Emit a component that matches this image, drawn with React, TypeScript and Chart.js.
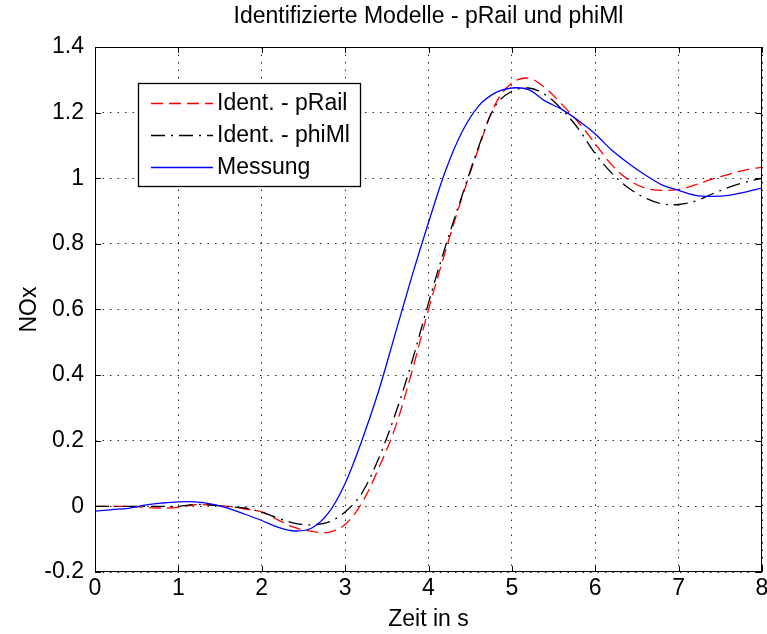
import { useEffect, useRef } from 'react';
import { Chart, registerables } from 'chart.js';

Chart.register(...registerables);

const chartTitle = 'Identifizierte Modelle - pRail und phiMl';
const xAxisTitle = 'Zeit in s';
const yAxisTitle = 'NOx';

const xTicks = [0, 1, 2, 3, 4, 5, 6, 7, 8];
const yTicks = [-0.2, 0, 0.2, 0.4, 0.6, 0.8, 1, 1.2, 1.4];

const time = [
  0, 0.2, 0.4, 0.6, 0.8, 1.0, 1.2, 1.4, 1.6, 1.8,
  2.0, 2.2, 2.4, 2.6, 2.8, 3.0, 3.2, 3.4, 3.6, 3.8,
  4.0, 4.2, 4.4, 4.6, 4.8, 5.0, 5.2, 5.4, 5.6, 5.8,
  6.0, 6.2, 6.4, 6.6, 6.8, 7.0, 7.2, 7.4, 7.6, 7.8, 8.0,
];

const identPRail = [
  0, 0, 0, -0.003, -0.005, -0.003, 0.005, 0.004, 0, -0.008,
  -0.017, -0.042, -0.065, -0.076, -0.079, -0.055, 0.01, 0.115, 0.24, 0.41,
  0.6, 0.775, 0.94, 1.09, 1.225, 1.29, 1.305, 1.275, 1.225, 1.17,
  1.105, 1.04, 0.995, 0.97, 0.963, 0.966, 0.98, 0.997, 1.012, 1.025, 1.034,
];

const identPhiMl = [
  0, 0, 0, 0, 0, 0, 0.006, 0.004, -0.001, -0.005,
  -0.018, -0.036, -0.052, -0.056, -0.048, -0.017, 0.04, 0.145, 0.28, 0.44,
  0.62, 0.79, 0.945, 1.095, 1.22, 1.265, 1.275, 1.255, 1.21, 1.15,
  1.075, 1.015, 0.97, 0.94, 0.922, 0.92, 0.93, 0.952, 0.972, 0.988, 1.0,
];

const messung = [
  -0.015, -0.01, -0.006, 0.004, 0.01, 0.014, 0.014, 0.007, -0.006, -0.024,
  -0.043, -0.064, -0.075, -0.066, -0.02, 0.07, 0.2, 0.35, 0.525, 0.7,
  0.865, 1.02, 1.14, 1.22, 1.26, 1.275, 1.27, 1.235, 1.21, 1.175,
  1.135, 1.085, 1.045, 1.01, 0.98, 0.963, 0.948, 0.945, 0.948, 0.958, 0.97,
];

const FONT = "'Liberation Sans', Arial, Helvetica, sans-serif";

const framePlugin = {
  id: 'frameAndLegend',
  afterDatasetsDraw(chart: any) {
    const { ctx, chartArea, scales } = chart;
    const { left, right, top, bottom } = chartArea;
    ctx.save();
    ctx.strokeStyle = '#000';
    ctx.lineWidth = 1;
    ctx.setLineDash([]);
    ctx.strokeRect(Math.round(left) + 0.5, Math.round(top) + 0.5, Math.round(right - left) - 1, Math.round(bottom - top) - 1);
    const tl = 6;
    ctx.beginPath();
    for (const v of xTicks) {
      const px = Math.round(scales.x.getPixelForValue(v)) + 0.5;
      ctx.moveTo(px, bottom);
      ctx.lineTo(px, bottom - tl);
      ctx.moveTo(px, top);
      ctx.lineTo(px, top + tl);
    }
    for (const v of yTicks) {
      const py = Math.round(scales.y.getPixelForValue(v)) + 0.5;
      ctx.moveTo(left, py);
      ctx.lineTo(left + tl, py);
      ctx.moveTo(right, py);
      ctx.lineTo(right - tl, py);
    }
    ctx.stroke();

    // title centred over the axes
    ctx.fillStyle = '#000';
    ctx.font = `23px ${FONT}`;
    ctx.textAlign = 'center';
    ctx.textBaseline = 'middle';
    ctx.fillText(chartTitle, (left + right) / 2, 17);

    // legend
    const bx = 138.5, by = 83.5, bw = 222, bh = 103;
    ctx.fillStyle = '#fff';
    ctx.fillRect(bx, by, bw, bh);
    ctx.strokeStyle = '#000';
    ctx.lineWidth = 1.3;
    ctx.strokeRect(bx, by, bw, bh);
    const rows = [103, 135, 167];
    ctx.textAlign = 'left';
    chart.data.datasets.forEach((ds: any, i: number) => {
      const y = rows[i];
      ctx.save();
      ctx.strokeStyle = ds.borderColor;
      ctx.lineWidth = ds.borderWidth;
      ctx.setLineDash(ds.borderDash || []);
      ctx.beginPath();
      ctx.moveTo(151, y + 0.5);
      ctx.lineTo(213, y + 0.5);
      ctx.stroke();
      ctx.restore();
      ctx.fillStyle = '#000';
      ctx.fillText(ds.label, 217, y + 1);
    });
    ctx.restore();
  },
};

export default function App() {
  const ref = useRef<HTMLCanvasElement>(null);

  useEffect(() => {
    if (!ref.current) return;
    const toPts = (ys: number[]) => time.map((t, i) => ({ x: t, y: ys[i] }));
    const chart = new Chart(ref.current, {
      type: 'line',
      data: {
        datasets: [
          {
            label: 'Ident. - pRail',
            data: toPts(identPRail),
            borderColor: '#ff0000',
            borderWidth: 1.3,
            borderDash: [12, 6],
            pointRadius: 0,
            tension: 0.35,
            order: 2,
          },
          {
            label: 'Ident. - phiMl',
            data: toPts(identPhiMl),
            borderColor: '#000000',
            borderWidth: 1.3,
            borderDash: [14, 6, 2, 6],
            pointRadius: 0,
            tension: 0.35,
            order: 1,
          },
          {
            label: 'Messung',
            data: toPts(messung),
            borderColor: '#0000ff',
            borderWidth: 1.3,
            pointRadius: 0,
            tension: 0.35,
            order: 0,
          },
        ],
      },
      options: {
        animation: false,
        responsive: false,
        devicePixelRatio: 1,
        layout: { padding: { left: 0, right: 5, top: 47, bottom: 0 } },
        plugins: {
          legend: { display: false },
          tooltip: { enabled: false },
          title: { display: false },
        },
        scales: {
          x: {
            type: 'linear',
            min: 0,
            max: 8,
            afterBuildTicks: (s: any) => {
              s.ticks = xTicks.map((v) => ({ value: v }));
            },
            afterFit: (s: any) => {
              s.height = 62;
              s.paddingLeft = 0;
              s.paddingRight = 0;
            },
            ticks: {
              color: '#000',
              font: { family: FONT, size: 23 },
              padding: 3,
              maxRotation: 0,
              autoSkip: false,
              callback: (v: any) => String(v),
            },
            grid: { color: 'rgba(0,0,0,0.85)', lineWidth: 1, drawTicks: false },
            border: { display: false, dash: [1.5, 6] },
            title: {
              display: true,
              text: xAxisTitle,
              color: '#000',
              font: { family: FONT, size: 23 },
              padding: { top: 0, bottom: 1 },
            },
          },
          y: {
            type: 'linear',
            min: -0.2,
            max: 1.4,
            afterBuildTicks: (s: any) => {
              s.ticks = yTicks.map((v) => ({ value: v }));
            },
            afterFit: (s: any) => {
              s.width = 95;
              s.paddingTop = 0;
              s.paddingBottom = 0;
            },
            ticks: {
              color: '#000',
              font: { family: FONT, size: 23 },
              padding: 11,
              autoSkip: false,
              callback: (v: any) => String(v),
            },
            grid: { color: 'rgba(0,0,0,0.85)', lineWidth: 1, drawTicks: false },
            border: { display: false, dash: [1.5, 6] },
            title: {
              display: true,
              text: yAxisTitle,
              color: '#000',
              font: { family: FONT, size: 23 },
              padding: { top: 16, bottom: 0 },
            },
          },
        },
      },
      plugins: [framePlugin],
    });
    return () => chart.destroy();
  }, []);

  return (
    <div style={{ position: 'absolute', left: 0, top: 0, width: 767, height: 634, background: '#fff' }}>
      <canvas ref={ref} width={767} height={634} style={{ display: 'block' }} />
    </div>
  );
}
